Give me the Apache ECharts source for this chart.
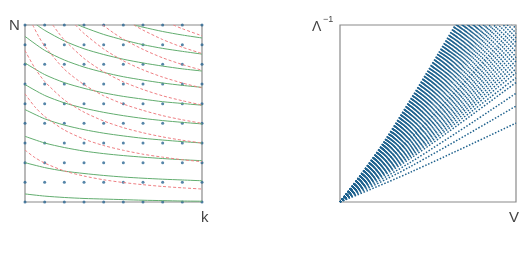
<!DOCTYPE html>
<html><head><meta charset="utf-8">
<script src="https://cdn.jsdelivr.net/npm/echarts@6/dist/echarts.min.js"></script>
<style>html,body{margin:0;padding:0;background:#fff}#c{width:530px;height:255px}</style>
</head><body><div id="c"></div>
<script>
// Left panel: lattice positions
const kValues = [0,1,2,3,4,5,6,7,8,9];
const nValues = [0,1,2,3,4,5,6,7,8,9];

// Left panel: green solid level curves, [k, N]
const greenCurves = [
  [[0,0.41],[1,0.3],[2,0.23],[3,0.18],[4,0.15],[5,0.12],[6,0.09],[7,0.07],[8,0.05],[9,0.04]],
  [[0,2.0],[1,1.75],[2,1.57],[3,1.45],[4,1.35],[5,1.27],[6,1.21],[7,1.16],[8,1.12],[9,1.08]],
  [[0,3.34],[1,3.0],[2,2.77],[3,2.59],[4,2.46],[5,2.36],[6,2.28],[7,2.21],[8,2.15],[9,2.1]],
  [[0,4.7],[1,4.23],[2,3.91],[3,3.68],[4,3.5],[5,3.36],[6,3.24],[7,3.15],[8,3.07],[9,3.0]],
  [[0,5.97],[1,5.42],[2,5.04],[3,4.77],[4,4.56],[5,4.39],[6,4.25],[7,4.14],[8,4.05],[9,3.97]],
  [[0,7.07],[1,6.48],[2,6.07],[3,5.78],[4,5.55],[5,5.37],[6,5.23],[7,5.1],[8,5.01],[9,4.92]],
  [[0,8.42],[1,7.71],[2,7.22],[3,6.86],[4,6.59],[5,6.37],[6,6.2],[7,6.05],[8,5.93],[9,5.83]],
  [[0.6,9],[1,8.73],[2,8.19],[3,7.79],[4,7.5],[5,7.26],[6,7.07],[7,6.91],[8,6.77],[9,6.66]],
  [[2.71,9],[3,8.88],[4,8.52],[5,8.24],[6,8.0],[7,7.81],[8,7.66],[9,7.52]],
  [[5.55,9],[6,8.89],[7,8.67],[8,8.49],[9,8.34]]
];

// Left panel: red dashed level curves, [k, N]
const redCurves = [
  [[0,2.64],[0.5,2.26],[1,1.98],[2,1.58],[3,1.32],[4,1.13],[5,0.99],[6,0.88],[7,0.79],[8,0.72],[9,0.66]],
  [[0,5.5],[0.5,4.84],[1,4.35],[2,3.66],[3,3.2],[4,2.87],[5,2.63],[6,2.43],[7,2.28],[8,2.15],[9,2.05]],
  [[0,7.7],[0.5,6.81],[1,6.13],[2,5.19],[3,4.57],[4,4.12],[5,3.78],[6,3.52],[7,3.31],[8,3.14],[9,3.0]],
  [[0.39,9],[0.7,8.41],[1,7.93],[2,6.75],[3,5.97],[4,5.4],[5,4.98],[6,4.66],[7,4.39],[8,4.18],[9,4.0]],
  [[1.41,9],[1.7,8.61],[2,8.24],[3,7.3],[4,6.62],[5,6.11],[6,5.72],[7,5.4],[8,5.15],[9,4.93]],
  [[2.56,9],[3,8.57],[4,7.78],[5,7.18],[6,6.72],[7,6.35],[8,6.05],[9,5.8]],
  [[3.95,9],[4.5,8.6],[5,8.28],[6,7.76],[7,7.33],[8,6.99],[9,6.7]],
  [[5.53,9],[6,8.74],[7,8.26],[8,7.87],[9,7.55]],
  [[7.54,9],[8,8.81],[9,8.45]]
];

// Right panel: dotted families, [V, Lambda^-1] (scaled 0..1)
const fanTop = [
  [[0,0],[0.25,0.34],[0.655,1]],
  [[0,0],[0.252,0.34],[0.66,1]],
  [[0,0],[0.254,0.34],[0.665,1]],
  [[0,0],[0.256,0.34],[0.67,1]],
  [[0,0],[0.258,0.34],[0.675,1]],
  [[0,0],[0.26,0.34],[0.68,1]],
  [[0,0],[0.262,0.34],[0.686,1]],
  [[0,0],[0.264,0.34],[0.691,1]],
  [[0,0],[0.266,0.34],[0.697,1]],
  [[0,0],[0.269,0.34],[0.703,1]],
  [[0,0],[0.271,0.34],[0.709,1]],
  [[0,0],[0.273,0.34],[0.715,1]],
  [[0,0],[0.276,0.34],[0.722,1]],
  [[0,0],[0.278,0.34],[0.729,1]],
  [[0,0],[0.281,0.34],[0.736,1]],
  [[0,0],[0.284,0.34],[0.743,1]],
  [[0,0],[0.287,0.34],[0.751,1]],
  [[0,0],[0.29,0.34],[0.759,1]],
  [[0,0],[0.293,0.34],[0.767,1]],
  [[0,0],[0.296,0.34],[0.776,1]],
  [[0,0],[0.3,0.34],[0.785,1]],
  [[0,0],[0.304,0.34],[0.795,1]],
  [[0,0],[0.308,0.34],[0.805,1]],
  [[0,0],[0.312,0.34],[0.816,1]],
  [[0,0],[0.316,0.34],[0.828,1]],
  [[0,0],[0.321,0.34],[0.84,1]],
  [[0,0],[0.326,0.34],[0.853,1]],
  [[0,0],[0.331,0.34],[0.867,1]],
  [[0,0],[0.337,0.34],[0.882,1]],
  [[0,0],[0.343,0.34],[0.898,1]],
  [[0,0],[0.35,0.34],[0.915,1]],
  [[0,0],[0.357,0.34],[0.935,1]],
  [[0,0],[0.365,0.34],[0.955,1]],
  [[0,0],[0.373,0.34],[0.977,1]],
  [[0,0],[0.382,0.34],[1,1]]
];
const fanRight = [
  [[0,0],[0.4,0.359],[1,0.978]],
  [[0,0],[0.4,0.35],[1,0.955]],
  [[0,0],[0.4,0.342],[1,0.932]],
  [[0,0],[0.4,0.333],[1,0.91]],
  [[0,0],[0.4,0.326],[1,0.887]],
  [[0,0],[0.4,0.316],[1,0.865]],
  [[0,0],[0.4,0.309],[1,0.842]],
  [[0,0],[0.4,0.3],[1,0.82]],
  [[0,0],[0.4,0.292],[1,0.797]],
  [[0,0],[0.4,0.283],[1,0.775]],
  [[0,0],[0.4,0.276],[1,0.752]],
  [[0,0],[0.4,0.266],[1,0.73]],
  [[0,0],[0.4,0.258],[1,0.702]],
  [[0,0],[0.4,0.246],[1,0.675]],
  [[0,0],[0.4,0.224],[1,0.614]],
  [[0,0],[0.4,0.2],[1,0.542]],
  [[0,0],[0.4,0.168],[1,0.446]]
];

const FONT = '"Liberation Sans", "DejaVu Sans", sans-serif';
const dots = [];
kValues.forEach(k => nValues.forEach(n => dots.push([k, n])));

const series = [];
greenCurves.forEach(c => series.push({
  type:'line', xAxisIndex:0, yAxisIndex:0, data:c, smooth:0.25,
  showSymbol:false, silent:true, lineStyle:{color:'#62ad6f', width:1}
}));
redCurves.forEach(c => series.push({
  type:'line', xAxisIndex:0, yAxisIndex:0, data:c, smooth:0.25,
  showSymbol:false, silent:true, lineStyle:{color:'#ee7f83', width:1, type:[3,2]}
}));
series.push({
  type:'scatter', xAxisIndex:0, yAxisIndex:0, data:dots, symbol:'circle', symbolSize:3,
  itemStyle:{color:'#2a6792'}, silent:true
});
fanTop.concat(fanRight).forEach(c => series.push({
  type:'line', xAxisIndex:1, yAxisIndex:1, data:c, smooth:0.35,
  showSymbol:false, silent:true, lineStyle:{color:'#1f628e', width:1.5, type:[1.5,1.7]}
}));

const hiddenAxis = {axisLine:{show:false}, axisTick:{show:false}, axisLabel:{show:false}, splitLine:{show:false}};
const chart = echarts.init(document.getElementById('c'), null, {renderer:'canvas'});
chart.setOption({
  animation:false,
  grid:[
    {left:25, top:25, width:177, height:177, show:true, borderColor:'#8a8a8a', borderWidth:1.2, backgroundColor:'transparent'},
    {left:340, top:25, width:176, height:177, show:true, borderColor:'#8a8a8a', borderWidth:1.2, backgroundColor:'transparent'}
  ],
  xAxis:[
    Object.assign({type:'value', gridIndex:0, min:0, max:9}, hiddenAxis),
    Object.assign({type:'value', gridIndex:1, min:0, max:1}, hiddenAxis)
  ],
  yAxis:[
    Object.assign({type:'value', gridIndex:0, min:0, max:9}, hiddenAxis),
    Object.assign({type:'value', gridIndex:1, min:0, max:1}, hiddenAxis)
  ],
  graphic:[
    {type:'text', left:9, top:18, style:{text:'N', font:'15px ' + FONT, fill:'#444'}},
    {type:'text', left:201, top:210, style:{text:'k', font:'15px ' + FONT, fill:'#444'}},
    {type:'text', left:312, top:20, style:{text:'Λ', font:'14px ' + FONT, fill:'#444'}},
    {type:'text', left:323, top:15, style:{text:'−1', font:'9px ' + FONT, fill:'#444'}},
    {type:'text', left:509, top:210, style:{text:'V', font:'15px ' + FONT, fill:'#444'}}
  ],
  series:series
});
</script>
</body></html>
